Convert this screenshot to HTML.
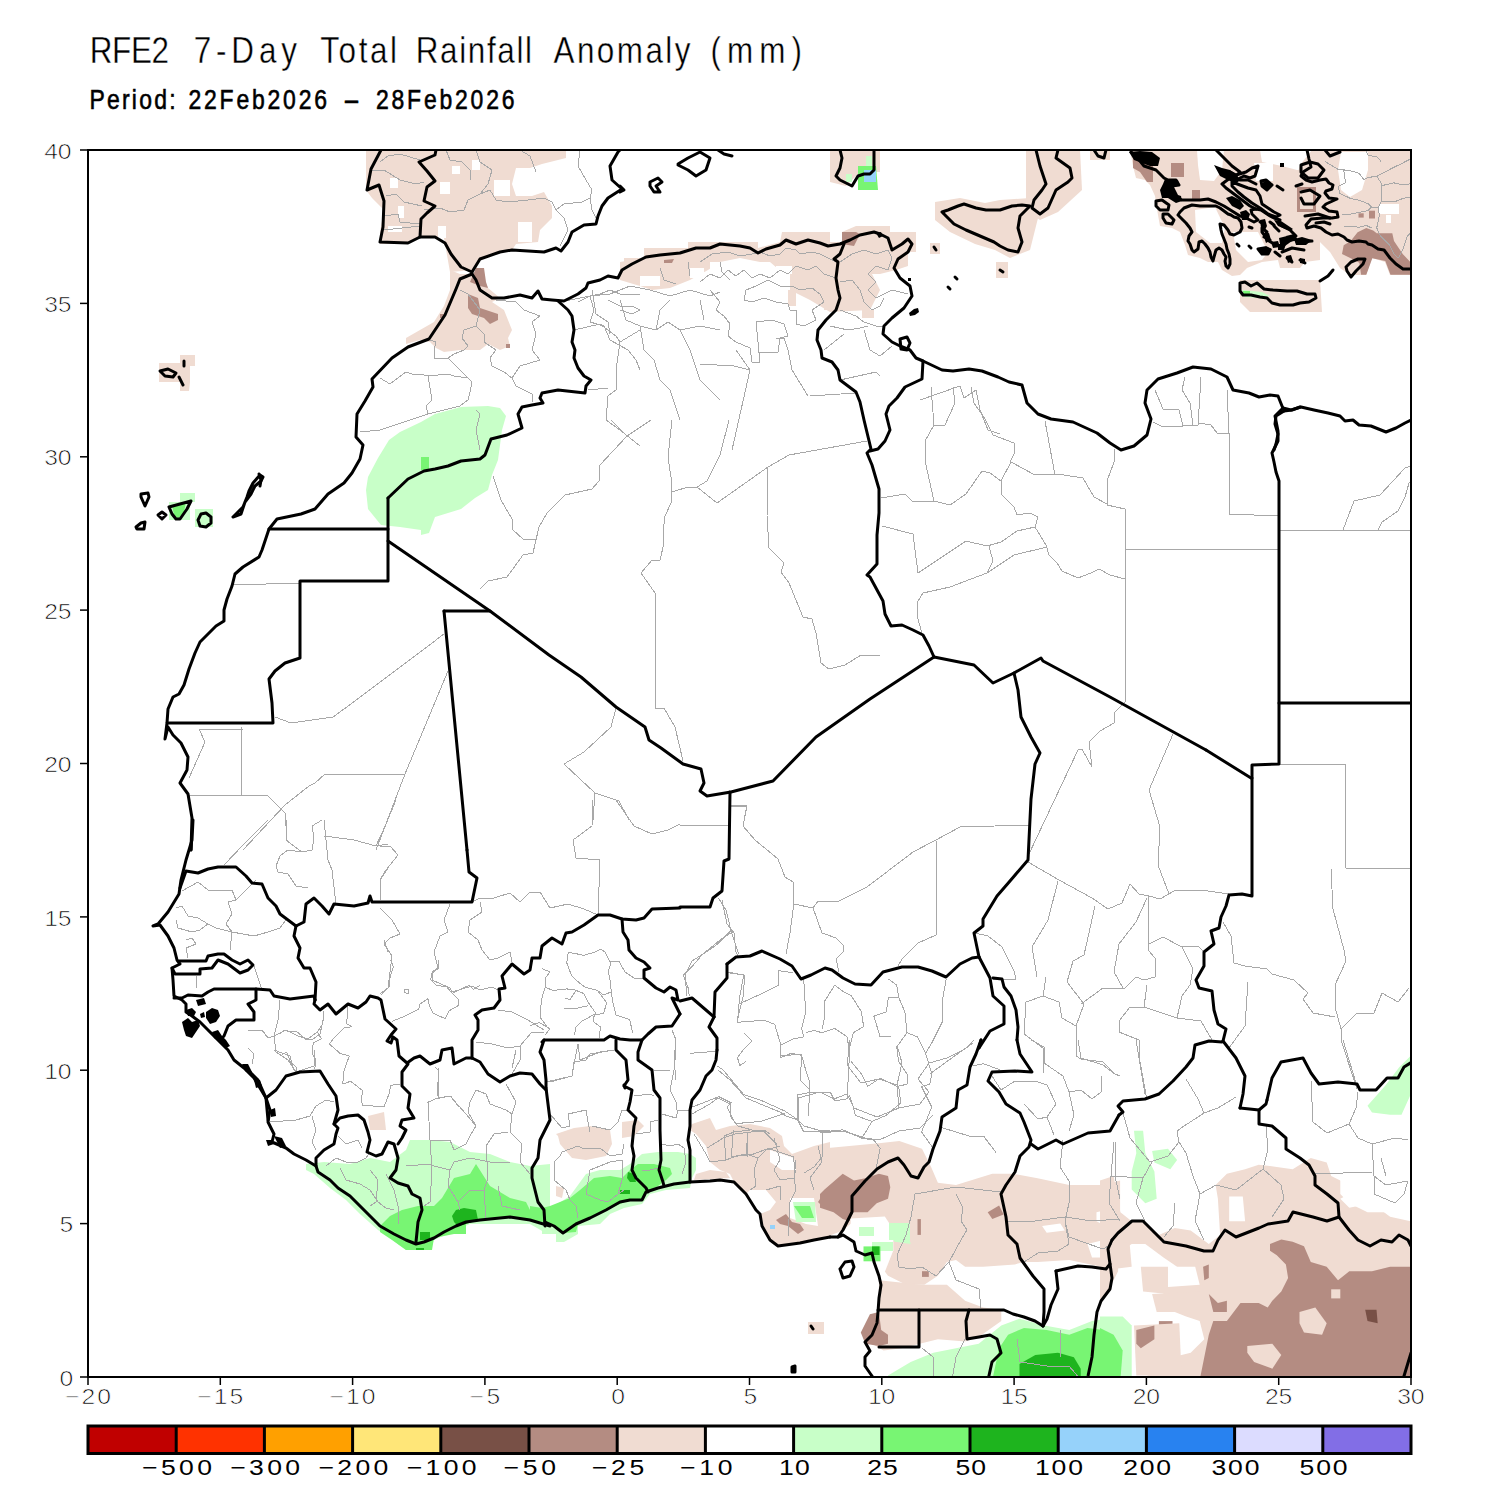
<!DOCTYPE html><html><head><meta charset="utf-8"><style>html,body{margin:0;padding:0;background:#fff;overflow:hidden;width:1500px;height:1500px;}svg{display:block}</style></head><body>
<svg width="1500" height="1500" viewBox="0 0 1500 1500">
<rect width="1500" height="1500" fill="#fff"/>
<text transform="translate(89.7,63.2) scale(0.85,1)" x="0" y="0" font-family="Liberation Sans, sans-serif" font-size="37" textLength="93.3" lengthAdjust="spacing" fill="#000" stroke="#fff" stroke-width="0.4">RFE2</text>
<text transform="translate(193.7,63.2) scale(0.85,1)" x="0" y="0" font-family="Liberation Sans, sans-serif" font-size="37" textLength="121.5" lengthAdjust="spacing" fill="#000" stroke="#fff" stroke-width="0.4">7-Day</text>
<text transform="translate(320.3,63.2) scale(0.85,1)" x="0" y="0" font-family="Liberation Sans, sans-serif" font-size="37" textLength="90.2" lengthAdjust="spacing" fill="#000" stroke="#fff" stroke-width="0.4">Total</text>
<text transform="translate(415.7,63.2) scale(0.85,1)" x="0" y="0" font-family="Liberation Sans, sans-serif" font-size="37" textLength="136.9" lengthAdjust="spacing" fill="#000" stroke="#fff" stroke-width="0.4">Rainfall</text>
<text transform="translate(553.5,63.2) scale(0.85,1)" x="0" y="0" font-family="Liberation Sans, sans-serif" font-size="37" textLength="161.2" lengthAdjust="spacing" fill="#000" stroke="#fff" stroke-width="0.4">Anomaly</text>
<text transform="translate(710.5,63.2) scale(0.85,1)" x="0" y="0" font-family="Liberation Sans, sans-serif" font-size="37" textLength="107.6" lengthAdjust="spacing" fill="#000" stroke="#fff" stroke-width="0.4">(mm)</text>
<text transform="translate(89.5,109.3) scale(0.85,1)" x="0" y="0" font-family="Liberation Sans, sans-serif" font-size="27" textLength="101.2" lengthAdjust="spacing" fill="#000" stroke="#000" stroke-width="0.6">Period:</text>
<text transform="translate(188.5,109.3) scale(0.85,1)" x="0" y="0" font-family="Liberation Sans, sans-serif" font-size="27" textLength="162.9" lengthAdjust="spacing" fill="#000" stroke="#000" stroke-width="0.6">22Feb2026</text>
<text transform="translate(343.0,109.3) scale(0.85,1)" x="0" y="0" font-family="Liberation Sans, sans-serif" font-size="27" textLength="20.0" lengthAdjust="spacingAndGlyphs" fill="#000" stroke="#000" stroke-width="0.6">-</text>
<text transform="translate(376.0,109.3) scale(0.85,1)" x="0" y="0" font-family="Liberation Sans, sans-serif" font-size="27" textLength="162.9" lengthAdjust="spacing" fill="#000" stroke="#000" stroke-width="0.6">28Feb2026</text>
<defs><clipPath id="mc"><rect x="88" y="150" width="1323" height="1227"/></clipPath></defs>
<g clip-path="url(#mc)">
<polygon points="306,1164 324,1162 350,1164 370,1158 390,1162 406,1150 410,1140 430,1140 450,1142 470,1152 490,1154 510,1162 530,1166 550,1164 550,1232 544,1232 530,1224 470,1224 434,1240 430,1250 406,1250 390,1238 378,1230 360,1214 346,1200 330,1188 314,1174 306,1170" fill="#c8ffc8"/>
<polygon points="380,1226 390,1216 402,1210 418,1206 434,1206 442,1198 454,1178 470,1174 476,1164 490,1186 510,1198 526,1202 530,1210 544,1214 550,1218 550,1226 530,1220 510,1217 480,1220 466,1222 466,1234 454,1234 434,1238 432,1250 406,1250 392,1240 380,1232" fill="#78f573"/>
<polygon points="452,1216 456,1210 464,1208 476,1210 478,1220 466,1224 458,1226 454,1222" fill="#1eb41e"/>
<polygon points="420,1232 430,1232 430,1240 420,1240" fill="#1eb41e"/>
<polygon points="416,1248 424,1248 424,1250 416,1250" fill="#1eb41e"/>
<polygon points="368,1116 384,1112 386,1130 370,1130" fill="#f0dcd2"/>
<polygon points="530,1204 540,1206 554,1206 570,1196 586,1174 600,1170 620,1170 630,1164 642,1154 658,1152 678,1152 690,1154 696,1158 696,1170 692,1178 690,1188 666,1190 650,1194 642,1204 624,1208 610,1214 600,1224 578,1226 578,1234 564,1242 556,1242 556,1234 542,1234 542,1226 530,1222" fill="#c8ffc8"/>
<polygon points="530,1206 542,1208 550,1206 570,1198 580,1190 594,1178 610,1176 622,1178 630,1170 638,1164 654,1164 670,1168 672,1174 666,1180 658,1186 646,1192 642,1200 630,1200 620,1204 606,1210 590,1218 578,1224 576,1232 564,1233 554,1226 544,1222 530,1221" fill="#78f573"/>
<polygon points="628,1172 634,1174 636,1182 630,1182 627,1178" fill="#1eb41e"/>
<polygon points="620,1190 630,1190 630,1194 620,1194" fill="#1eb41e"/>
<polygon points="556,1134 574,1128 590,1126 610,1130 612,1144 606,1156 586,1160 572,1158 560,1144 558,1136" fill="#f0dcd2"/>
<polygon points="622,1122 638,1120 644,1126 634,1136 622,1138" fill="#f0dcd2"/>
<polygon points="556,1186 564,1188 562,1198 556,1196" fill="#f0dcd2"/>
<polygon points="692,1124 710,1118 716,1130 730,1126 750,1124 770,1128 782,1136 784,1146 792,1154 814,1146 830,1142 830,1237 814,1240 800,1243 778,1246 770,1240 762,1226 760,1214 770,1210 776,1202 766,1190 750,1190 746,1194 734,1182 730,1174 720,1170 710,1162 706,1146 696,1134 690,1130" fill="#f0dcd2"/>
<polygon points="696,1174 710,1170 726,1172 730,1178 694,1180" fill="#f0dcd2"/>
<polygon points="770,1150 794,1158 796,1170 782,1170 770,1162" fill="#ffffff"/>
<polygon points="790,1198 814,1198 818,1226 806,1224 790,1218" fill="#ffffff"/>
<polygon points="793,1202 815,1202 816,1222 796,1222" fill="#c8ffc8"/>
<polygon points="794,1206 810,1206 814,1218 802,1218" fill="#78f573"/>
<polygon points="776,1220 786,1214 792,1222 800,1224 804,1230 798,1234 788,1226 780,1224" fill="#b48c82"/>
<polygon points="818,1202 826,1190 830,1192 830,1208 822,1206" fill="#b48c82"/>
<polygon points="808,1322 824,1322 824,1334 808,1334" fill="#f0dcd2"/>
<polygon points="770,1225 775,1225 775,1229 770,1229" fill="#96d2fa"/>
<polygon points="820.0,1148.8 881.2,1143.1 899.3,1140.9 922.0,1148.8 931.1,1166.9 937.9,1182.8 956.0,1185.1 992.3,1173.7 1012.7,1173.7 1037.6,1178.3 1069.3,1185.1 1103.3,1185.1 1120.1,1180.5 1120.1,1284.8 1110.1,1278.0 1101.1,1266.7 1069.3,1259.9 1037.6,1262.1 1024.0,1262.1 1014.9,1264.4 983.2,1266.7 965.1,1266.7 956.0,1259.9 946.9,1262.1 937.9,1275.7 924.3,1284.8 906.1,1284.8 888.0,1275.7 881.2,1266.7 876.7,1244.0 869.9,1221.3 856.3,1219.1 842.7,1230.4 820.0,1239.5" fill="#f0dcd2"/>
<polygon points="878.9,1280.3 922.0,1284.8 946.9,1284.8 965.1,1300.7 983.2,1307.5 1001.3,1309.7 1001.3,1321.1 978.7,1336.9 965.1,1341.5 937.9,1339.2 919.7,1343.7 901.6,1348.3 883.5,1350.5 872.1,1343.7 876.7,1323.3 878.9,1300.7" fill="#f0dcd2"/>
<polygon points="1096.5,1212.3 1114.7,1207.7 1120.1,1212.3 1120.1,1228.1 1105.6,1225.9 1096.5,1221.3" fill="#ffffff"/>
<polygon points="1087.5,1244.0 1105.6,1239.5 1112.4,1244.0 1110.1,1257.6 1092.0,1257.6" fill="#ffffff"/>
<polygon points="1042.1,1225.9 1060.3,1223.6 1064.8,1230.4 1046.7,1232.7" fill="#ffffff"/>
<polygon points="820.0,1194.1 824.5,1189.6 842.7,1173.7 854.0,1180.5 865.3,1178.3 878.9,1173.7 888.0,1176.0 890.3,1187.3 888.0,1198.7 876.7,1203.2 867.6,1212.3 851.7,1212.3 849.5,1221.3 842.7,1219.1 833.6,1212.3 820.0,1207.7" fill="#b48c82"/>
<polygon points="860.8,1332.4 869.9,1314.3 878.9,1312.0 881.2,1330.1 888.0,1334.7 888.0,1343.7 878.9,1346.0 865.3,1343.7" fill="#b48c82"/>
<polygon points="987.7,1212.3 999.1,1205.5 1003.6,1214.5 992.3,1219.1" fill="#b48c82"/>
<polygon points="917.5,1219.1 920.9,1219.1 920.9,1234.9 917.5,1234.9" fill="#b48c82"/>
<polygon points="922.0,1271.2 928.8,1271.2 928.8,1276.9 922.0,1276.9" fill="#b48c82"/>
<polygon points="860.8,1225.9 874.4,1225.9 874.4,1234.9 860.8,1234.9" fill="#c8ffc8"/>
<polygon points="888.0,1223.6 906.1,1225.9 910.7,1244.0 894.8,1241.7 888.0,1234.9" fill="#c8ffc8"/>
<polygon points="888.0,1375.5 910.7,1361.9 933.3,1352.8 956.0,1348.3 978.7,1343.7 1001.3,1325.6 1019.5,1318.8 1044.4,1325.6 1069.3,1330.1 1092.0,1321.1 1120.1,1316.5 1120.1,1380.0 888.0,1380.0" fill="#c8ffc8"/>
<polygon points="992.3,1380.0 999.1,1348.3 1008.1,1334.7 1024.0,1327.9 1046.7,1330.1 1069.3,1334.7 1087.5,1327.9 1103.3,1330.1 1120.1,1334.7 1120.1,1380.0" fill="#78f573"/>
<polygon points="1019.5,1364.1 1035.3,1355.1 1058.0,1352.8 1073.9,1357.3 1080.7,1368.7 1080.7,1380.0 1019.5,1380.0" fill="#1eb41e"/>
<polygon points="863.1,1250.8 874.4,1248.5 878.9,1257.6 872.1,1264.4 863.1,1259.9" fill="#78f573"/>
<polygon points="873.3,1247.4 877.8,1247.4 877.8,1254.2 873.3,1254.2" fill="#1eb41e"/>
<polygon points="1100.0,1180.5 1113.6,1176.0 1120.4,1212.3 1131.7,1221.3 1143.1,1221.3 1158.9,1234.9 1174.8,1228.1 1190.7,1230.4 1208.8,1244.0 1220.1,1234.9 1217.9,1198.7 1215.6,1185.1 1226.9,1173.7 1245.1,1169.2 1258.7,1164.7 1276.8,1166.9 1292.7,1169.2 1310.8,1157.9 1326.7,1162.4 1331.2,1176.0 1349.3,1185.1 1349.3,1194.1 1340.3,1198.7 1349.3,1207.7 1372.0,1203.2 1390.1,1216.8 1410.5,1221.3 1412.8,1380.0 1100.0,1380.0" fill="#f0dcd2"/>
<polygon points="1118.1,1253.1 1131.7,1244.0 1145.3,1244.0 1163.5,1257.6 1177.1,1266.7 1195.2,1266.7 1199.7,1284.8 1168.0,1287.1 1156.7,1302.9 1174.8,1312.0 1186.1,1316.5 1199.7,1321.1 1204.3,1339.2 1190.7,1352.8 1172.5,1357.3 1152.1,1366.4 1145.3,1380.0 1100.0,1380.0 1100.0,1305.2 1109.1,1289.3 1118.1,1271.2" fill="#ffffff"/>
<polygon points="1229.2,1196.4 1242.8,1196.4 1245.1,1221.3 1229.2,1221.3" fill="#ffffff"/>
<polygon points="1340.3,1171.5 1412.8,1171.5 1412.8,1203.2 1394.7,1212.3 1367.5,1212.3 1349.3,1203.2 1340.3,1194.1" fill="#ffffff"/>
<polygon points="1270.0,1244.0 1281.3,1239.5 1292.7,1241.7 1304.0,1246.3 1310.8,1262.1 1326.7,1266.7 1338.0,1280.3 1349.3,1271.2 1372.0,1271.2 1390.1,1266.7 1412.8,1266.7 1412.8,1380.0 1199.7,1380.0 1208.8,1334.7 1213.3,1321.1 1226.9,1321.1 1240.5,1302.9 1258.7,1302.9 1267.7,1307.5 1272.3,1300.7 1281.3,1291.6 1288.1,1278.0 1285.9,1264.4 1276.8,1255.3 1270.0,1250.8" fill="#b48c82"/>
<polygon points="1247.3,1346.0 1272.3,1343.7 1281.3,1355.1 1272.3,1368.7 1254.1,1361.9 1247.3,1352.8" fill="#f0dcd2"/>
<polygon points="1299.5,1312.0 1315.3,1307.5 1326.7,1323.3 1322.1,1334.7 1304.0,1332.4 1299.5,1323.3" fill="#f0dcd2"/>
<polygon points="1331.2,1289.3 1340.3,1289.3 1340.3,1298.4 1331.2,1298.4" fill="#f0dcd2"/>
<polygon points="1136.3,1330.1 1154.4,1325.6 1154.4,1339.2 1140.8,1348.3 1136.3,1343.7" fill="#b48c82"/>
<polygon points="1203.1,1266.7 1208.8,1264.4 1208.8,1278.0 1204.3,1280.3" fill="#b48c82"/>
<polygon points="1208.8,1293.9 1217.9,1302.9 1226.9,1300.7 1226.9,1312.0 1213.3,1312.0" fill="#b48c82"/>
<polygon points="1158.9,1321.1 1172.5,1321.1 1172.5,1325.6 1158.9,1325.6" fill="#b48c82"/>
<polygon points="1365.2,1309.7 1376.5,1309.7 1377.7,1323.3 1367.5,1321.1" fill="#785046"/>
<polygon points="1134.0,1130.7 1143.1,1130.7 1145.3,1153.3 1154.4,1171.5 1156.7,1198.7 1145.3,1203.2 1131.7,1189.6 1131.7,1171.5 1136.3,1153.3" fill="#c8ffc8"/>
<polygon points="1152.1,1151.1 1168.0,1148.8 1177.1,1160.1 1170.3,1169.2 1154.4,1162.4" fill="#c8ffc8"/>
<polygon points="1367.5,1105.7 1385.6,1085.3 1399.2,1067.2 1412.8,1053.6 1412.8,1089.9 1401.5,1114.8 1390.1,1114.8 1372.0,1112.5" fill="#c8ffc8"/>
<polygon points="1100.0,1316.5 1122.7,1316.5 1131.7,1325.6 1131.7,1380.0 1100.0,1380.0" fill="#c8ffc8"/>
<polygon points="1100.0,1327.9 1113.6,1334.7 1122.7,1350.5 1120.4,1380.0 1100.0,1380.0" fill="#78f573"/>
<polygon points="366,150 566,150 566,158 542,164 530,168 516,168 512,184 516,196 532,196 544,192 552,206 552,218 540,230 538,242 516,244 512,250 480,258 474,270 450,272 444,238 424,236 406,244 380,244 380,232 384,210 372,198 366,190" fill="#f0dcd2"/>
<polygon points="452,166 460,166 460,174 452,174" fill="#ffffff"/>
<polygon points="440,182 450,182 450,194 440,194" fill="#ffffff"/>
<polygon points="494,180 510,180 510,196 494,196" fill="#ffffff"/>
<polygon points="518,222 532,222 532,242 518,242" fill="#ffffff"/>
<polygon points="438,226 446,226 446,238 438,238" fill="#ffffff"/>
<polygon points="472,160 480,160 480,170 472,170" fill="#ffffff"/>
<polygon points="390,178 398,178 398,188 390,188" fill="#ffffff"/>
<polygon points="398,206 404,206 404,218 398,218" fill="#ffffff"/>
<polygon points="388,226 402,226 402,232 388,232" fill="#ffffff"/>
<polygon points="624,258 640,258 640,270 624,270" fill="#f0dcd2"/>
<polygon points="450,270 460,274 472,274 480,270 488,288 500,298 492,302 504,310 512,330 508,338 510,346 500,350 488,344 480,350 460,350 444,352 436,348 430,342 420,340 406,344 406,338 420,330 434,322 444,306 450,290" fill="#f0dcd2"/>
<polygon points="476,268 484,268 486,282 488,288 480,286 470,282" fill="#b48c82"/>
<polygon points="468,294 478,298 480,308 492,312 498,314 498,320 490,324 484,318 472,314 468,308" fill="#b48c82"/>
<polygon points="506,344 510,344 510,348 506,348" fill="#b48c82"/>
<polygon points="440,314 444,314 444,318 440,318" fill="#b48c82"/>
<polygon points="389,440 400,432 421,422 435,414 461,407 488,406 500,408 506,416 502,430 500,445 498,460 492,475 488,490 475,498 461,509 435,517 429,533 421,535 421,530 400,527 381,525 368,509 366,490 368,477 378,458" fill="#c8ffc8"/>
<polygon points="421,457 429,457 429,470 421,470" fill="#78f573"/>
<polygon points="620,262 644,258 644,248 688,248 688,242 758,242 758,248 780,242 782,232 802,232 830,232 830,242 842,242 842,232 856,226 890,226 890,232 916,232 916,252 908,252 908,266 896,270 880,274 860,274 840,270 820,270 800,274 784,274 770,262 760,262 740,258 720,262 708,270 690,280 670,288 652,290 640,286 620,280" fill="#f0dcd2"/>
<polygon points="790,270 870,270 880,290 870,310 830,312 810,300 790,290" fill="#f0dcd2"/>
<polygon points="842,232 856,232 860,234 854,246 842,244" fill="#b48c82"/>
<polygon points="664,260 674,259 672,263 664,263" fill="#b48c82"/>
<polygon points="830,150 880,150 880,172 860,172 846,186 830,182" fill="#f0dcd2"/>
<polygon points="846,174 852,174 852,182 846,182" fill="#c8ffc8"/>
<polygon points="858,166 876,166 878,190 858,190" fill="#78f573"/>
<polygon points="864,170 876,170 876,182 864,182" fill="#96d2fa"/>
<polygon points="866,156 872,156 872,166 866,166" fill="#c8ffc8"/>
<polygon points="935,202 960,198 985,203 1000,200 1030,198 1040,210 1030,250 1010,258 995,250 975,244 950,232 935,220" fill="#f0dcd2"/>
<polygon points="1026,150 1080,150 1082,190 1058,212 1040,220 1026,210 1026,170" fill="#f0dcd2"/>
<polygon points="972,230 985,230 985,240 972,240" fill="#f0dcd2"/>
<polygon points="996,262 1008,262 1008,278 996,278" fill="#f0dcd2"/>
<polygon points="1090,150 1110,150 1110,160 1090,160" fill="#f0dcd2"/>
<polygon points="1130,150 1260,150 1262,162 1282,166 1297,170 1320,170 1320,260 1305,262 1300,268 1280,268 1278,260 1262,262 1247,268 1240,275 1232,276 1222,270 1218,262 1208,262 1200,258 1188,255 1185,245 1180,232 1172,228 1160,226 1158,215 1155,196 1150,185 1145,180 1136,178 1133,166" fill="#f0dcd2"/>
<polygon points="1197,150 1224,150 1222,170 1214,181 1200,180 1198,165" fill="#ffffff"/>
<polygon points="1195,210 1215,207 1225,228 1222,243 1210,243 1196,232" fill="#ffffff"/>
<polygon points="1233,232 1258,232 1268,252 1262,260 1248,262 1236,250" fill="#ffffff"/>
<polygon points="1254,163 1273,163 1273,181 1256,181" fill="#ffffff"/>
<polygon points="1133,157 1153,157 1153,182 1147,182 1140,172 1133,168" fill="#b48c82"/>
<polygon points="1171,163 1184,163 1184,177 1171,177" fill="#b48c82"/>
<polygon points="1192,190 1200,190 1200,199 1192,199" fill="#b48c82"/>
<polygon points="1298,186 1320,186 1320,213 1298,213" fill="#b48c82"/>
<polygon points="1240,280 1320,280 1322,312 1250,312 1240,302" fill="#f0dcd2"/>
<polygon points="1242,290 1262,292 1270,296 1260,298 1244,297" fill="#c8ffc8"/>
<polygon points="1243,291 1250,291 1250,296 1243,296" fill="#78f573"/>
<polygon points="180,355 195,355 195,366 190,366 190,382 189,391 180,391 180,382 159,382 159,363 180,363" fill="#f0dcd2"/>
<polygon points="169,502 190,502 190,520 169,520" fill="#c8ffc8"/>
<polygon points="180,493 195,493 195,502 180,502" fill="#c8ffc8"/>
<polygon points="195,509 213,509 213,527 195,527" fill="#c8ffc8"/>
<polygon points="172,505 186,502 184,512 178,519 174,515" fill="#78f573"/>
<polygon points="182,1022 188,1018 192,1022 198,1020 200,1026 196,1032 192,1038 186,1036 184,1030" fill="#000000"/>
<polygon points="186,1010 192,1008 196,1012 194,1016 188,1016" fill="#000000"/>
<polygon points="206,1012 212,1008 218,1010 220,1016 216,1022 210,1024 206,1018" fill="#000000"/>
<polygon points="200,1014 204,1012 205,1017 201,1018" fill="#000000"/>
<polygon points="212,1032 218,1030 222,1036 226,1040 230,1046 226,1048 220,1042 214,1038" fill="#000000"/>
<polygon points="196,1000 204,998 206,1004 198,1006" fill="#000000"/>
<polygon points="242,1064 248,1064 252,1072 246,1072" fill="#000000"/>
<polygon points="254,1080 260,1080 262,1086 256,1088" fill="#000000"/>
<polygon points="270,1110 275,1108 276,1116 271,1117" fill="#000000"/>
<polygon points="274,1136 282,1138 286,1146 280,1148" fill="#000000"/>
<polygon points="266,1140 272,1140 274,1144 268,1146" fill="#000000"/>
<polygon points="1129,152 1140,151 1152,152 1160,158 1158,166 1150,166 1142,163 1134,160" fill="#000000"/>
<polygon points="1165,179 1178,180 1179,185 1174,187 1178,195 1181,196 1182,201 1176,203 1168,198 1162,198 1160,190 1163,184" fill="#000000"/>
<polygon points="1214,165 1222,168 1230,170 1236,174 1240,180 1236,184 1228,180 1220,176" fill="#000000"/>
<polygon points="1226,198 1232,196 1240,200 1244,206 1240,210 1232,206" fill="#000000"/>
<polygon points="1240,212 1246,210 1250,214 1248,220 1242,220" fill="#000000"/>
<polygon points="1286,236 1294,234 1298,240 1290,242" fill="#000000"/>
<polygon points="1278,244 1286,244 1284,250 1278,250" fill="#000000"/>
<polygon points="710,262 726,262 726,274 710,274" fill="#ffffff"/>
<polygon points="754,262 766,262 766,278 754,278" fill="#ffffff"/>
<polygon points="776,266 792,266 792,274 776,274" fill="#ffffff"/>
<polygon points="640,276 660,276 660,286 640,286" fill="#ffffff"/>
<polygon points="690,268 704,268 704,278 690,278" fill="#ffffff"/>
<polygon points="788,290 796,290 796,306 788,306" fill="#f0dcd2"/>
<polygon points="824,290 860,290 860,310 824,310" fill="#f0dcd2"/>
<polygon points="862,310 874,310 874,318 862,318" fill="#f0dcd2"/>
<polygon points="930,243 940,243 940,254 930,254" fill="#f0dcd2"/>
<polygon points="1109.1,1244.0 1129.5,1241.7 1131.7,1266.7 1113.6,1268.9" fill="#f0dcd2"/>
<polygon points="1140.8,1266.7 1168.0,1266.7 1168.0,1293.9 1143.1,1291.6" fill="#f0dcd2"/>
<polygon points="1152.1,1293.9 1199.7,1291.6 1199.7,1312.0 1156.7,1312.0" fill="#f0dcd2"/>
<polygon points="1134.0,1325.6 1179.3,1323.3 1181.6,1375.5 1136.3,1375.5" fill="#f0dcd2"/>
<polygon points="1136.3,1330.1 1154.4,1325.6 1154.4,1339.2 1140.8,1348.3 1136.3,1343.7" fill="#b48c82"/>
<polygon points="1312,150 1411,150 1411,275 1390,275 1385,262 1372,258 1366,275 1350,275 1340,268 1330,252 1318,240 1300,232 1296,215 1296,180 1300,165" fill="#f0dcd2"/>
<polygon points="1341,152 1368,152 1368,170 1362,190 1350,197 1341,190 1338,170" fill="#ffffff"/>
<polygon points="1379,204 1399,204 1399,214 1379,214" fill="#ffffff"/>
<polygon points="1386,215 1391,215 1391,223 1386,223" fill="#ffffff"/>
<polygon points="1357.6,232.3 1366.3,228 1373.2,230.6 1376.7,233.2 1392.3,233.2 1394,241 1402.7,254 1411,262.7 1411,274.8 1390.5,274.8 1385.3,260.9 1372.3,258.3 1366.3,274.8 1361.1,274.8 1359.3,262.7 1350.7,258.3 1342,254 1343.7,245.3 1350.7,241" fill="#b48c82"/>
<polygon points="1358.5,213.3 1363.7,213.3 1363.7,217.6 1358.5,217.6" fill="#b48c82"/>
<polygon points="1369,210.7 1375,210.7 1375,218.5 1369,218.5" fill="#b48c82"/>
<polygon points="1297,187 1316,187 1316,212 1297,212" fill="#b48c82"/>
<polygon points="1300,190 1313,190 1313,209 1300,209" fill="#f0dcd2"/>
<polygon points="909,313 914,309 918,308 919,312 915,315 910,316" fill="#000000"/>
<polygon points="908,278 911,278 911,281 908,281" fill="#000000"/>
<polygon points="876,233 881,232 883,236 879,238" fill="#000000"/>
<polygon points="850.7,1218.6 884.8,1216.4 893.3,1229.2 893.3,1250.6 884.8,1271.9 867.7,1278.3 854.9,1267.6 850.7,1242" fill="#ffffff"/>
<polygon points="859,1227 874,1227 874,1236 859,1236" fill="#c8ffc8"/>
<polygon points="889,1223 910,1223 910,1240 889,1240" fill="#c8ffc8"/>
<polygon points="872,1242 893,1242 893,1251 872,1251" fill="#c8ffc8"/>
<polygon points="863.5,1246.4 880.5,1246.4 880.5,1261.3 863.5,1261.3" fill="#78f573"/>
<polygon points="872,1246.4 879.5,1246.4 879.5,1255 872,1255" fill="#1eb41e"/>
<polygon points="1261,184 1266,180 1272,185 1267,190" fill="#000000"/>
<polygon points="1280,163 1284,163 1284,167 1280,167" fill="#000000"/>
<polygon points="1260,220 1265,219 1267,226 1264,232 1261,228" fill="#000000"/>
<polygon points="1263,234 1269,233 1271,240 1266,243" fill="#000000"/>
<polygon points="1271,242 1278,241 1280,247 1273,248" fill="#000000"/>
<polygon points="1259,249 1266,246 1272,249 1268,254 1261,254" fill="#000000"/>
<polygon points="1274,220 1281,221 1293,229 1290,231 1278,226" fill="#000000"/>
<polygon points="1279,238 1287,236 1292,241 1285,246 1280,244" fill="#000000"/>
<polygon points="1294,239 1302,237 1312,240 1306,245 1296,245" fill="#000000"/>
<polygon points="1286,256 1291,255 1293,261 1288,263" fill="#000000"/>
<polygon points="1300,258 1305,259 1305,264 1300,263" fill="#000000"/>

<g fill="none" stroke="#a8a8a8" stroke-width="1" stroke-linejoin="round" shape-rendering="crispEdges">
<polyline points="232,585 300,583"/>
<polyline points="275,717 291,723 333,717 355,701 444,634"/>
<polyline points="448,671 405,774 376,850"/>
<polyline points="325,774 405,774"/>
<polyline points="325,774 315,783 309,786 285,805 243,850"/>
<polyline points="241,727 241,795"/>
<polyline points="199,729 243,729"/>
<polyline points="199,729 205,742 189,778"/>
<polyline points="189,795 267,795 285,813 287,839"/>
<polyline points="672,420 668,457 672,484 671,503 665,516 663,532 664,543 660,560 652,560 641,573 655,593 655,708 664,708 675,727 683,761"/>
<polyline points="611,420 627,436 651,420"/>
<polyline points="627,436 600,465 599,481 592,489 565,495 547,513 539,527 536,540 533,553 523,555 507,577 488,581 480,589"/>
<polyline points="493,476 501,500 512,519 512,529 523,539 537,540"/>
<polyline points="672,492 688,487 697,487 707,481 720,455 729,420"/>
<polyline points="697,487 717,503 768,467 789,455 867,441"/>
<polyline points="768,467 767,516 769,548 784,563 781,572 789,583 803,617 812,619 816,633 821,663 829,669 845,665 861,655 880,656"/>
<polyline points="616,708 611,727 584,752 564,764 595,793 593,820"/>
<polyline points="595,793 619,801 629,820"/>
<polyline points="731,805 747,805 744,820"/>
<polyline points="1125,509 1125,702"/>
<polyline points="1125,549 1279,549"/>
<polyline points="1227,390 1229,433 1229,514 1279,516"/>
<polyline points="1107,505 1125,509"/>
<polyline points="1107,505 1107,481 1114,462 1114,449"/>
<polyline points="1045,421 1055,475"/>
<polyline points="1011,462 1001,481 990,473 982,471 966,494 950,505 934,501 913,502 905,494 881,498"/>
<polyline points="1001,481 1001,494 1014,507 1017,515 1030,513 1038,517 1035,527 1017,531 1001,542 987,546 966,541 918,573 913,534 882,526"/>
<polyline points="1035,527 1046,545 1049,555 1057,563 1062,571 1078,578 1091,573 1099,569 1110,575 1125,579"/>
<polyline points="1047,547 1014,555 987,573 971,579 950,587 923,593 917,603 918,619 922,633"/>
<polyline points="989,546 993,561 987,573"/>
<polyline points="1010,462 1014,454 1014,443 993,435 985,419 974,403 971,387"/>
<polyline points="1011,462 1035,475 1057,474 1083,478 1094,497 1107,504"/>
<polyline points="931,387 934,425 945,425 955,403 953,387"/>
<polyline points="934,425 925,441 926,465 934,501"/>
<polyline points="1155,390 1163,409 1179,410 1183,426 1198,425 1201,377"/>
<polyline points="1185,377 1182,390 1190,403 1193,425"/>
<polyline points="1153,422 1161,426 1183,426"/>
<polyline points="1198,423 1211,425 1217,433 1229,434"/>
<polyline points="1279,530 1411,530"/>
<polyline points="1343,530 1354,501 1380,495 1405,468 1411,466"/>
<polyline points="1378,530 1382,522 1398,511 1405,497 1409,483 1411,481"/>
<polyline points="182,891 198,882 208,890 232,890 236,900 228,902 232,914 226,924 232,932 230,950"/>
<polyline points="236,900 246,890 256,880"/>
<polyline points="176,908 182,906 188,916 198,918 208,924 216,928 232,932 254,936 268,932 280,928 286,920"/>
<polyline points="176,920 178,928 192,932 200,930 208,924"/>
<polyline points="186,940 192,938 196,944 186,948 188,958"/>
<polyline points="196,976 196,988"/>
<polyline points="254,966 262,990"/>
<polyline points="280,1000 278,1020 274,1036 276,1052 288,1060 296,1072"/>
<polyline points="248,1030 262,1030 268,1038 274,1036 286,1030 298,1036 312,1040 320,1034 324,1016"/>
<polyline points="248,1048 254,1054 252,1064"/>
<polyline points="286,820 286,840 302,852 312,850 314,838 312,826 322,820"/>
<polyline points="324,820 328,860 332,870 336,904"/>
<polyline points="324,836 354,840 376,846 388,844"/>
<polyline points="388,820 376,846"/>
<polyline points="276,866 280,856 288,850 302,852"/>
<polyline points="276,866 278,872 288,874 296,886 308,888"/>
<polyline points="224,865 244,844 268,820"/>
<polyline points="388,868 380,880 380,900"/>
<polyline points="384,940 388,952"/>
<polyline points="472,902 480,898 494,898 510,893 520,902 530,892 540,892 550,908 568,904 584,909 598,915"/>
<polyline points="598,915 600,860 576,858 573,840 592,826 593,800"/>
<polyline points="616,800 634,826 652,834 668,830 680,824"/>
<polyline points="380,838 396,800"/>
<polyline points="380,846 390,846 398,855 386,870 380,880"/>
<polyline points="480,902 482,912 470,920 468,932 478,940 482,950 490,960 498,958 510,952 512,962"/>
<polyline points="450,904 444,920 448,932 440,936 434,952 438,968 432,972 432,980 450,988 452,992 472,986 480,990 492,987 498,990"/>
<polyline points="380,908 392,920 400,934 390,938 384,944 392,956 388,988 380,994"/>
<polyline points="498,1010 512,1012 528,1020 544,1030"/>
<polyline points="476,1042 492,1044 508,1048 520,1046 520,1060 512,1074"/>
<polyline points="520,1046 532,1032 544,1032"/>
<polyline points="546,1082 572,1076 574,1064 578,1044 580,1060 600,1052 614,1050"/>
<polyline points="672,1030 676,1040 674,1060 676,1080"/>
<polyline points="730,806 747,806 743,826 755,840 778,859 785,877 793,882 794,903 790,933 786,954"/>
<polyline points="680,825 728,825"/>
<polyline points="794,904 813,908 818,901 839,901 867,887 913,852 934,841 960,827 1030,825"/>
<polyline points="936,841 936,935 918,943 902,959 898,966"/>
<polyline points="813,908 822,933 836,938 843,945 843,952 836,959 839,972"/>
<polyline points="722,900 727,924 734,933 736,952 738,956"/>
<polyline points="734,931 720,940 703,954 692,961 685,975 687,996"/>
<polyline points="975,933 988,936 1002,947 1014,971 1016,979 993,979"/>
<polyline points="1125,690 1125,702 1115,712 1114,723 1100,731 1089,742 1092,767 1082,749 1078,750 1029,854"/>
<polyline points="1010,825 1028,825"/>
<polyline points="1173,734 1149,790 1160,827 1158,865 1169,894"/>
<polyline points="1028,862 1059,880 1092,898 1108,909 1122,903 1130,884 1139,894 1149,896 1160,899 1174,891 1201,890 1229,894"/>
<polyline points="1058,881 1048,920 1032,947 1037,977"/>
<polyline points="1095,906 1084,955 1073,961 1067,982 1084,1004"/>
<polyline points="1148,896 1148,950 1155,958 1155,977 1144,980 1136,977 1125,988 1103,988 1081,1004"/>
<polyline points="1147,898 1136,922 1119,944 1114,972 1123,988"/>
<polyline points="1149,944 1163,937 1180,946 1199,947 1204,952"/>
<polyline points="1182,947 1193,969 1190,985 1182,996 1177,1018 1201,1021 1212,1040"/>
<polyline points="1144,1007 1177,1018"/>
<polyline points="1147,985 1144,1007 1130,1007 1119,1021 1119,1032 1139,1040 1139,1056 1147,1100"/>
<polyline points="1046,977 1043,996 1026,1002 1024,1034 1043,1048 1043,1073"/>
<polyline points="1043,996 1059,1002 1062,1018 1076,1026 1076,1056 1081,1059 1103,1062 1114,1073"/>
<polyline points="1076,1026 1084,1004"/>
<polyline points="1279,764 1345,764 1345,868 1410,869"/>
<polyline points="1331,869 1333,909 1344,950 1346,961 1335,985 1335,1007 1341,1029 1341,1040 1357,1089"/>
<polyline points="1223,922 1231,936 1234,963 1245,966 1267,969 1272,974 1294,980 1308,993 1303,999 1313,1013 1335,1017"/>
<polyline points="1341,1029 1357,1013 1374,1013 1382,993 1398,1002 1409,988"/>
<polyline points="1248,982 1245,1026 1229,1048"/>
<polyline points="428,1102 430,1140 432,1170 430,1202 424,1206"/>
<polyline points="430,1140 450,1140 454,1150 466,1144 470,1136 476,1126 468,1112 470,1102 476,1090 486,1094 490,1104 506,1110 512,1114 510,1132 522,1144 520,1162 530,1174"/>
<polyline points="406,1166 430,1164 434,1166 450,1170 454,1162 470,1158 490,1162 510,1162"/>
<polyline points="450,1170 448,1186 458,1202 460,1210"/>
<polyline points="486,1146 494,1134 508,1132"/>
<polyline points="486,1146 488,1178 484,1190 486,1220"/>
<polyline points="498,1186 502,1206 520,1210"/>
<polyline points="458,1202 470,1190 484,1190"/>
<polyline points="326,1166 336,1158 346,1162 358,1162 366,1158 370,1152"/>
<polyline points="340,1168 346,1180 360,1184 370,1190 378,1202 386,1208 394,1210"/>
<polyline points="338,1136 346,1144 358,1140 362,1148"/>
<polyline points="370,1170 378,1180 376,1202 370,1206"/>
<polyline points="386,1174 394,1190 398,1206 398,1224"/>
<polyline points="270,1122 296,1120 310,1116 316,1106 326,1100 334,1102"/>
<polyline points="312,1116 316,1130 312,1142 316,1150"/>
<polyline points="314,1050 314,1066 296,1072"/>
<polyline points="274,1050 290,1056 294,1070"/>
<polyline points="438,1068 438,1098 450,1096 466,1114 476,1126"/>
<polyline points="506,1084 516,1102 512,1114"/>
<polyline points="512,1068 516,1050"/>
<polyline points="550,1082 572,1076 574,1062 586,1060 590,1054 614,1050"/>
<polyline points="550,1114 562,1128 570,1126 568,1114 586,1110 588,1122 590,1132"/>
<polyline points="592,1126 610,1130 618,1122 622,1110 628,1110"/>
<polyline points="562,1152 578,1146 582,1148 600,1148 610,1156 622,1154 624,1144"/>
<polyline points="554,1180 554,1162 560,1156 562,1152"/>
<polyline points="554,1180 566,1190 570,1200 576,1206 578,1218"/>
<polyline points="586,1194 590,1170 600,1166 610,1162 622,1160"/>
<polyline points="586,1194 600,1200 608,1202 618,1194 624,1190"/>
<polyline points="622,1160 622,1180 618,1194"/>
<polyline points="634,1096 650,1094 654,1096"/>
<polyline points="636,1134 650,1132 650,1122 658,1120"/>
<polyline points="642,1170 650,1170 658,1168"/>
<polyline points="662,1114 676,1118 678,1110 690,1110"/>
<polyline points="670,1090 676,1102 676,1110"/>
<polyline points="676,1050 674,1070 670,1090"/>
<polyline points="662,1144 670,1146 678,1144 684,1148 686,1162 682,1174"/>
<polyline points="654,1070 670,1070"/>
<polyline points="692,1114 710,1104 718,1098 726,1102 730,1104 730,1116 738,1126 752,1130 764,1130 770,1134"/>
<polyline points="718,1070 730,1080 746,1098 770,1108 780,1112 786,1116 798,1120 804,1126 818,1130 830,1130"/>
<polyline points="798,1120 798,1098 820,1092 830,1092"/>
<polyline points="808,1116 810,1090 800,1080 802,1054 780,1056"/>
<polyline points="694,1134 706,1154 710,1162 726,1160 724,1136 734,1132 750,1130"/>
<polyline points="748,1132 746,1154 736,1156 726,1160"/>
<polyline points="746,1154 758,1158 766,1150 780,1146"/>
<polyline points="758,1158 754,1170 756,1186 750,1190"/>
<polyline points="774,1138 780,1160 774,1170 780,1180 794,1178 796,1160"/>
<polyline points="766,1190 780,1186 780,1200"/>
<polyline points="794,1178 796,1190 790,1202 788,1236"/>
<polyline points="818,1146 822,1162 810,1178 814,1190"/>
<polyline points="820,1133 843,1131 865,1138 879,1140 899,1131 920,1128 933,1115"/>
<polyline points="820,1092 834,1099 847,1094 854,1108 877,1117 899,1108 897,1085 879,1079 861,1083 847,1065 850,1040"/>
<polyline points="899,1108 920,1104 929,1092 918,1079 929,1063 947,1058 965,1049 974,1040"/>
<polyline points="897,1085 902,1063 897,1045"/>
<polyline points="915,1194 956,1187 1001,1192"/>
<polyline points="956,1194 963,1208 961,1221 967,1230 961,1240 956,1249 949,1262 956,1280 979,1289 981,1308"/>
<polyline points="915,1194 911,1217 906,1235 897,1255 899,1267 911,1269 922,1267 936,1276 949,1262"/>
<polyline points="1008,1221 1035,1221 1065,1217 1092,1221 1120,1219"/>
<polyline points="1063,1140 1060,1167 1069,1181 1069,1203 1065,1221 1069,1237 1083,1242 1103,1249 1112,1244"/>
<polyline points="1024,1262 1038,1253 1058,1251 1069,1244 1065,1221"/>
<polyline points="1115,1142 1115,1176 1120,1199"/>
<polyline points="992,1076 1001,1090 1015,1081 1035,1081 1047,1085 1056,1104 1047,1117 1054,1135"/>
<polyline points="1024,1104 1038,1119 1047,1117"/>
<polyline points="1031,1040 1044,1047 1044,1063 1063,1076 1069,1092 1081,1090 1092,1099 1101,1092 1101,1076"/>
<polyline points="1078,1040 1081,1058 1103,1065 1115,1074 1120,1076"/>
<polyline points="1069,1092 1074,1115 1069,1131"/>
<polyline points="922,1348 933,1357 933,1380"/>
<polyline points="965,1339 956,1357 952,1380"/>
<polyline points="1017,1339 1020,1362 1047,1366 1069,1366 1081,1380"/>
<polyline points="1060,1330 1060,1357"/>
<polyline points="1123,1113 1130,1138 1150,1162 1168,1156 1179,1142 1177,1131 1184,1126 1198,1117 1204,1113 1218,1108 1236,1097"/>
<polyline points="1186,1079 1198,1099 1204,1113"/>
<polyline points="1136,1040 1139,1058 1145,1094"/>
<polyline points="1114,1142 1111,1176 1143,1178 1152,1162"/>
<polyline points="1111,1176 1109,1203 1120,1221"/>
<polyline points="1143,1178 1136,1203 1145,1221"/>
<polyline points="1179,1142 1186,1153 1193,1176 1200,1194 1195,1221 1204,1240"/>
<polyline points="1175,1203 1173,1226 1164,1237"/>
<polyline points="1200,1194 1216,1185 1236,1190 1263,1169 1268,1149 1266,1126"/>
<polyline points="1263,1169 1281,1185 1284,1199 1272,1217"/>
<polyline points="1311,1081 1313,1122 1327,1133 1349,1124 1358,1138 1372,1144 1374,1176 1386,1185 1408,1181"/>
<polyline points="1358,1092 1356,1108 1349,1124"/>
<polyline points="1315,1174 1372,1172"/>
<polyline points="1372,1144 1395,1138 1408,1140"/>
<polyline points="1374,1176 1374,1194 1395,1203 1404,1194 1408,1181"/>
<polyline points="1381,1158 1386,1176"/>
<polyline points="1343,1040 1356,1083"/>
<polyline points="424,210 440,208 450,212 464,210 468,200 480,194 490,190 496,200 508,202 528,200 544,198 552,202 556,210 564,218 568,230"/>
<polyline points="480,194 488,184 492,170 480,162 476,150"/>
<polyline points="580,150 578,166 586,180 592,190 590,198 582,202 564,204 556,210"/>
<polyline points="590,198 592,210 596,218"/>
<polyline points="564,218 568,230 560,246"/>
<polyline points="380,162 388,156 400,154 420,160"/>
<polyline points="370,170 384,170 400,180 416,184 424,182"/>
<polyline points="386,196 396,194 404,202 422,206"/>
<polyline points="384,216 398,214 400,222 420,224"/>
<polyline points="384,230 420,226"/>
<polyline points="446,150 450,160 462,162 470,170 470,180"/>
<polyline points="520,150 530,156 536,172"/>
<polyline points="460,290 468,294 480,310 476,326 464,330 462,338 468,346 464,350 454,354 448,358 434,358 434,350 436,342 430,340"/>
<polyline points="476,326 484,334 484,342 496,350 490,358 492,366 504,372 512,378 516,386 532,394 532,402"/>
<polyline points="496,300 516,302 524,310 540,316 532,322 536,334 532,350 540,360 520,366 512,378"/>
<polyline points="448,358 460,370 468,378 472,382 470,392 468,400 460,406 444,410 428,414 404,422 380,430 360,432"/>
<polyline points="468,378 454,376 448,374 428,376 420,374 412,374 406,372 390,384 380,378"/>
<polyline points="428,376 432,400 426,406 428,414"/>
<polyline points="476,410 480,414 476,430 480,450"/>
<polyline points="560,302 580,298 600,294 610,290 620,294 640,294"/>
<polyline points="574,330 600,324 608,330 616,336 620,342 616,370 616,390 608,396 606,420 620,430 640,446"/>
<polyline points="588,390 608,388"/>
<polyline points="592,290 596,314 608,322 610,334"/>
<polyline points="608,300 620,306 632,306 640,310"/>
<polyline points="620,342 640,330"/>
<polyline points="700,262 712,254 728,252 740,256 752,254 760,252 770,256 780,254 786,248 796,250 800,254 812,252 820,254 828,258 836,262"/>
<polyline points="700,282 710,274 720,278 728,270 736,276 744,270 752,278 760,274 770,278 780,270 788,274 796,266 808,270 816,266 824,274 836,278"/>
<polyline points="710,290 720,302 716,310 724,316 730,324 728,336 736,342 750,348 752,362 760,362 756,322 772,320 784,324 788,336 780,338 778,352 758,352"/>
<polyline points="746,290 756,286 768,280 780,286 792,286 800,290 812,288 820,294 824,302 812,310 816,320 804,326 796,324"/>
<polyline points="746,290 744,300 752,302 764,298 776,302 788,304 790,310 796,310 796,324"/>
<polyline points="840,262 852,254 864,250 876,254 888,250 892,258 888,270 876,266 868,274 876,282 868,290 876,298 884,294 892,290 908,294"/>
<polyline points="840,282 852,280 860,290 864,302 872,310 880,306 884,298"/>
<polyline points="840,310 856,316 864,322 876,326 884,326"/>
<polyline points="830,326 848,330 860,328 868,326"/>
<polyline points="824,350 844,334"/>
<polyline points="864,330 870,350 880,356 892,346"/>
<polyline points="840,380 876,372 880,376"/>
<polyline points="810,396 856,393"/>
<polyline points="732,450 750,370 736,350"/>
<polyline points="700,364 734,366 750,370"/>
<polyline points="776,338 784,338 788,350 792,370 808,396"/>
<polyline points="920,400 960,386 964,398 976,390 980,410 988,430 1000,434"/>
<polyline points="578,302 590,296 610,294 630,286 650,290 670,296 690,290 710,296 720,292"/>
<polyline points="590,296 594,310 590,322 604,326 610,340 628,350 636,360 640,370"/>
<polyline points="620,300 626,320 640,326 656,330 668,322 680,330 700,326 720,330"/>
<polyline points="640,326 644,350 654,360 660,380 670,390 680,420"/>
<polyline points="680,330 690,350 700,380 720,400"/>
<polyline points="656,330 660,310 670,300"/>
<polyline points="700,300 704,320"/>
<polyline points="720,262 722,272 730,280"/>
<polyline points="660,268 664,280 676,284"/>
<polyline points="688,262 690,276"/>
<polyline points="620,310 632,314 640,310"/>
<polyline points="803.7,978.9 805.7,1012 801.6,1028.5 803.7,1036.8 793.3,1038.9 780.9,1045.1 780.9,1057.5 791.3,1053.3 801.6,1055.4 805.7,1069.9 809.9,1082.3 809.9,1092.6 818.1,1092.6 830.5,1092.6 834.7,1100.9 847.1,1098.8 849.1,1061.6 849.1,1049.2 847.1,1036.8 834.7,1028.5 822.3,1032.7 814,1030.6 805.7,1032.7"/>
<polyline points="834.7,985.1 842.9,991.3 851.2,995.5 861.5,1012 863.6,1026.5 853.3,1032.7 849.1,1049.2"/>
<polyline points="834.7,985.1 824.3,1001.7 824.3,1018.2 822.3,1028.5"/>
<polyline points="888.4,978.9 896.7,985.1 898.7,997.5 904.9,1012 907,1032.7 896.7,1047.1 898.7,1061.6 907,1074 907,1084.3 896.7,1086.4 880.1,1078.1 867.7,1086.4 861.5,1074 851.2,1061.6"/>
<polyline points="907,1032.7 917.3,1036.8 925.6,1053.3 931.8,1074 929.7,1084.3 921.5,1086.4"/>
<polyline points="946.3,978.9 942.1,1001.7 942.1,1022.3 931.8,1043 925.6,1053.3"/>
<polyline points="873.9,1016.1 886.3,1012 888.4,997.5 898.7,997.5"/>
<polyline points="873.9,1016.1 880.1,1036.8 890.5,1036.8"/>
<polyline points="929.7,1074 952.5,1057.5 973.1,1043"/>
<polyline points="921.5,1086.4 931.8,1107.1 921.5,1131.9 931.8,1146.3"/>
<polyline points="898.7,1086.4 900.8,1102.9 886.3,1115.3 871.9,1121.5 855.3,1115.3 853.3,1107.1 849.1,1094.7"/>
<polyline points="871.9,1121.5 865.7,1131.9 861.5,1138.1 842.9,1129.8 822.3,1131.9 803.7,1131.9 797.5,1119.5 797.5,1094.7 809.9,1092.6"/>
<polyline points="797.5,1119.5 785.1,1111.2 762.3,1100.9 743.7,1094.7 723.1,1069.9 716.9,1065.7"/>
<polyline points="692.1,1107.1 718.9,1096.7 731.3,1102.9 727.2,1107.1 735.5,1123.6 760.3,1121.5 785.1,1113.3"/>
<polyline points="727.2,972.7 743.7,974.8 739.6,997.5 737.5,1022.3 764.4,1020.2 774.7,1024.4 780.9,1045.1"/>
<polyline points="739.6,1003.7 762.3,993.4 778.9,985.1 778.9,970.7 793.3,972.7"/>
<polyline points="743.7,1032.7 752,1040.9 743.7,1049.2 737.5,1057.5 739.6,1065.7 745.8,1061.6"/>
<polyline points="690,1053.3 716.9,1051.3"/>
<polyline points="942.1,1127.7 969,1136 983.5,1136 995.9,1152.5"/>
<polyline points="973.1,1065.7 983.5,1063.7 1000,1069.9"/>
<polyline points="822.3,1131.9 822.3,1156.7 814,1167 803.7,1173.2"/>
<polyline points="861.5,1138.1 873.9,1140.1 880.1,1148.4 876,1169.1"/>
<polyline points="733.4,1129.8 731.3,1156.7 752,1154.6 768.5,1148.4 780.9,1152.5 793.3,1156.7 795.4,1173.2"/>
<polyline points="706.5,1148.4 723.1,1138.1 735.5,1133.9 752,1131.9 764.4,1131.9 776.8,1144.3"/>
<polyline points="747.9,1131.9 747.9,1156.7"/>
<polyline points="1324.7,161.3 1337.7,169.1 1343.7,169.9 1350.7,170.8 1359.3,173.4 1363.7,179.5 1368,177.7 1376.7,176 1385.3,171.7 1394,167.3 1402.7,163 1411,158.7"/>
<polyline points="1343.7,169.9 1345.5,182.9 1338.5,186.4 1339.4,193.3 1350.7,198.5 1359.3,200.3 1368,203.7 1371.5,207.2 1368,210.7 1350.7,214.1 1342,214.1"/>
<polyline points="1371.5,207.2 1378.4,207.2 1381,202 1385.3,201.1 1394,202 1402.7,198.5 1411,196.8"/>
<polyline points="1378.4,207.2 1379.3,215.9 1376.7,228 1381,236.7 1389.7,245.3 1394,254 1398.3,258.3"/>
<polyline points="1343.7,226.3 1359.3,227.1 1366.3,225.4 1371.5,228"/>
<polyline points="1381,202 1381,186.4 1385.3,184.7 1394,182.9 1402.7,184.7 1411,183.8"/>
<polyline points="1376.7,176 1381,182.9 1381,186.4"/>
<polyline points="1365.4,150 1368,155.2 1376.7,156.9 1381,161.3"/>
<polyline points="1398.3,258.3 1402.7,249.7 1407,236.7 1411,232.3"/>
<polyline points="390.7,960 393.3,966.7 389.3,980 389.3,986.7 381.3,994.7"/>
<polyline points="438.7,960 438.7,968 432,973.3 430.7,980 436,985.3 446.7,986.7 452,993.3 458.7,1000 458.7,1005.3 449.3,1010.7 445.3,1018.7 433.3,1013.3 429.3,1005.3 428,998.7 420,1004 418.7,1009.3 405.3,1016 392,1021.3"/>
<polyline points="452,993.3 469.3,985.3 473.3,989.3 480,985.3"/>
<polyline points="404,989 408,989 408,994 404,992 404,989"/>
<polyline points="348,1005.3 346.7,1024 352,1026.7 344,1028 333.3,1038.7 329.3,1044 340,1053.3 349.3,1056 344,1070.7 342.7,1084 350.7,1081.3 362.7,1090.7 361.3,1100 362.7,1105.3 384,1106.7 389.3,1093.3 390.7,1085.3 400,1084"/>
<polyline points="324,1010.7 322.7,1024 317.3,1032 306.7,1040 297.3,1032 284,1030.7 280,1033.3"/>
<polyline points="317.3,1032 321.3,1038.7 313.3,1042.7 312,1053.3 316,1060 314.7,1069.3"/>
<polyline points="280,1056 286.7,1052 290.7,1062.7 296,1066.7 296,1073.3"/>
<polyline points="434.7,1066.7 438.7,1070.7 437.3,1093.3 438.7,1098.7"/>
<polyline points="426.7,1102.7 436,1098.7 450.7,1096 458.7,1106.7"/>
<polyline points="568.3,952.2 576,953.7 583.7,955.3 594.4,952.2 600.6,949.1 605.2,952.2 609.8,961.4 619,961.4 625.1,972.1 634.3,978.2 643.5,978.2"/>
<polyline points="568.3,952.2 566.8,962.9 571.4,975.2 577.5,981.3 585.2,987.4 597.5,990.4 603.6,995 611.3,991.9 609.8,978.2 608.2,972.1 611.3,961.4"/>
<polyline points="611.3,991.9 612.8,1002.6 615.9,1014.9 629.7,1019.5 632.7,1033.3"/>
<polyline points="597.5,990.4 606.7,1002.6 603.6,1013.4 594.4,1014.9 592.9,1021.1 600.6,1027.2 599.1,1037.9"/>
<polyline points="542.3,968.8 549.9,971.9 545.3,978.2 545.3,987.4 553,990.4 566.8,988.9 577.5,990.4"/>
<polyline points="545.3,987.4 542.3,996.5 540.7,1007.3 540.7,1018 548.4,1028.7"/>
<polyline points="565.3,998 569.9,999.6 576,990.4 583.7,993.5 588.3,1002.6 595.9,1013.4 582.1,1021.1 576,1027.2 574.5,1034.9"/>
<polyline points="563.7,1008.8 576,1008.8 580.6,1007.3 588.3,1005.7"/>
<polyline points="530,1025.7 539.2,1022.6 549.9,1028.7 545.3,1034.9"/>
<polyline points="718.6,898.4 726.3,910.7 730.9,930.6 717.1,944.4 701.8,955.1 692.6,965.9 683.4,975.1 688,987.4 689.5,996.5"/>
<polyline points="730.9,930.6 738.6,953.7"/>
<polyline points="727.9,972.1 744.7,975.2 743.2,996.5 737.1,1021.1"/>
</g>
<g fill="none" stroke="#000" stroke-width="3" stroke-linejoin="round" stroke-linecap="round">
<polyline points="381,150 371,169 367,190 379,185 384,201 383,227 380,242 408,243 420,237 435,237 445,243 451,254 461,267 472,272"/>
<polyline points="436,150 435,155 419,162 427,171 435,181 427,187 424,201 435,206 427,213 421,219 420,237"/>
<polyline points="472,272 480,259 500,252 512,250 528,251 544,252 556,248 561,251 568,242 572,232 584,225 596,224 598,216 602,206 608,198 622,189 612,180 610,166 618,152 620,150"/>
<polyline points="472,274 476,280 480,290 492,298 504,298 520,295 532,298 538,291 542,299 552,300 564,301 578,294 586,288 588,283 600,280 608,276 618,278 622,270 632,264 646,257 660,255 680,253 696,248 710,248 720,244 740,246 750,248 758,253 766,249 780,245 786,240 796,244 808,240 820,243 828,246 840,244 850,240 860,235 874,232 880,234 888,238 892,250 902,244 908,239 912,244 908,252 898,259 894,268 900,278 910,286 912,296 904,308 892,318 884,326 883,334 892,342 900,346 910,350 916,358 923,361 942,370 953,371 969,369 982,371 998,377 1009,382 1022,385 1027,403 1038,414 1051,419 1073,422 1097,433 1110,443 1121,450 1134,446 1147,435 1151,419 1145,403 1147,390 1158,379 1177,373 1193,367 1211,369 1227,377 1233,390 1249,393 1259,397 1270,395 1278,396 1282,406 1284,411 1292,410 1300,407"/>
<polyline points="472,274 460,279 456,289 445,315 429,339 408,347 392,358 372,379 373,387 365,401 357,414 356,437 363,445 360,459 352,473 344,483 328,494 315,509 301,514 277,519 269,529 262,550 259,557 243,567 235,574 232,586 227,599 224,610 224,621 216,626 208,634 200,642 195,653 189,669 184,685 179,694 173,697 168,709 167,723 165,739 168,727 173,735 181,743 188,757 187,770 180,783 188,794 192,818 191,850"/>
<polyline points="558,301 568,310 572,316 574,330 572,342 575,350 574,358 578,368 584,376 591,380 586,386 585,393 576,392 558,390 542,393 540,398 543,403 532,405 522,407 518,414 522,428 507,435 491,439 485,455 480,459 461,461 448,466 435,469 424,471 408,479 388,498"/>
<polyline points="269,529 388,529"/>
<polyline points="388,498 388,581 300,581 300,658 285,663 275,671 269,679 272,703 273,723 168,723"/>
<polyline points="388,541 490,611 549,655 581,677 616,707 645,727 649,740 661,748 672,756 683,764 701,769 704,783 700,791 707,796 731,792 773,781 816,737 870,699 934,657"/>
<polyline points="444,611 490,611"/>
<polyline points="444,611 467,850"/>
<polyline points="844,244 840,254 834,259 838,262 836,278 838,290 840,298 836,310 826,320 818,330 817,340 821,350 822,358 832,362 838,370 840,380 856,392 860,402 864,420 871,449 867,453 872,465 879,489 879,513 877,535 877,553 877,564 867,575 870,577 883,601 885,614 891,626 902,625 913,630 923,635 929,646 934,657"/>
<polyline points="923,361 922,379 905,387 897,398 889,406 886,414 890,430 885,441 878,449 870,451"/>
<polyline points="934,657 974,665 993,683 1014,673 1041,658 1043,661 1110,697 1206,750"/>
<polyline points="1284,411 1276,416 1275,424 1278,434 1276,444 1274,450"/>
<polyline points="1283,408 1291,410 1301,407 1314,410 1328,413 1340,416 1345,421 1353,420 1359,425 1371,426 1386,432 1396,428 1405,423 1411,420"/>
<polyline points="1283,408 1275,416 1278,431 1278,441 1272,453 1274,462 1276,472 1279,481 1279,703 1411,703"/>
<polyline points="191,850 193,820 192,840 186,860 181,880 179,894 168,912 158,924 153,926 160,925 168,936 174,948 177,960 180,964 172,968 173,980 174,996 182,1000 186,1004 186,1012 192,1016 200,1022 208,1030 218,1040 228,1050 234,1060 244,1068 254,1078 260,1088 266,1098 268,1120"/>
<polyline points="180,888 186,871 198,873 208,869 218,867 236,867 246,876 252,883 262,884 268,898 276,906 280,914 288,920 296,926"/>
<polyline points="296,926 304,922 306,904 314,898 322,906 329,914 334,904 354,906 368,903 370,896 372,902 472,902 477,878 469,872 467,850"/>
<polyline points="296,926 294,936 300,948 298,958 304,968 310,968 316,982 315,1000"/>
<polyline points="315,1000 314,996 290,999 274,996 270,990 256,989 214,989 208,992 202,996 188,995 182,998 174,998"/>
<polyline points="179,961 206,961 208,956 218,954 224,954 232,960 240,964 248,960 253,965 248,970 240,973 228,964 218,960 212,968 200,969 200,974 175,974 172,968"/>
<polyline points="256,989 256,1000 248,1004 254,1012 254,1020 236,1020 228,1026 224,1036 220,1040"/>
<polyline points="266,1098 276,1090 286,1076 300,1072 320,1071 328,1084 336,1096 338,1110 334,1124"/>
<polyline points="315,1000 314,1004 320,1010 328,1004 336,1014 348,1004 358,1008 366,1002 370,996 378,998 381,1000 385,1019 396,1029 391,1035 387,1041 391,1043 393,1037 397,1040 399,1056 407,1063 414,1058 420,1056 430,1064 440,1060 442,1050 452,1048 454,1064 466,1058 472,1058"/>
<polyline points="680,908 652,909 644,918 636,920 622,919 610,915 598,915 584,925 572,932 566,933 562,944 552,938 542,946 540,958 532,958 530,970 524,974 512,964 502,976 505,988 499,989 500,1000 494,1008 482,1010 475,1015 478,1020 478,1030 472,1040 472,1058"/>
<polyline points="622,919 623,932 628,940 629,950 636,958 644,962 650,968 644,970 644,978 656,988 664,992 670,987 676,990 678,1000 672,998 680,1014"/>
<polyline points="680,1014 672,1026 656,1027 648,1034 642,1040 630,1040 620,1039 610,1036 604,1040 580,1040 544,1040 542,1042"/>
<polyline points="544,1040 540,1052 544,1060 546,1080 546,1088"/>
<polyline points="472,1058 480,1062 488,1074 500,1082 510,1076 520,1073 532,1074 540,1084 546,1090"/>
<polyline points="730,792 729,859 724,861 722,891 713,898 710,907 680,907"/>
<polyline points="727,964 736,957 750,956 762,951 780,959 792,966 801,979 811,975 825,968 832,970 843,978 855,984 871,985 883,972 902,967 918,967 932,971 946,977 960,964 972,958 979,957"/>
<polyline points="727,964 727,978 715,992 714,1017"/>
<polyline points="714,1017 692,998 680,1001"/>
<polyline points="714,1017 709,1027 717,1038 717,1050"/>
<polyline points="979,957 974,933 983,926 983,919 997,896 1010,881 1028,860 1031,799 1035,764 1040,753 1031,737 1021,717 1018,690 1014,673"/>
<polyline points="979,957 990,978 993,996 1004,1006 1004,1024 990,1031 979,1048"/>
<polyline points="993,978 1002,979 1004,987 1011,996 1016,1010 1018,1027 1017,1040"/>
<polyline points="1206,750 1251,778"/>
<polyline points="1252,778 1252,765 1279,764 1279,703"/>
<polyline points="1252,778 1252,896 1242,894 1229,895 1226,906 1221,917 1219,928 1211,931 1214,944 1204,952 1204,966 1196,980 1199,988 1212,991 1214,1010 1218,1024 1226,1029 1223,1041"/>
<polyline points="1223,1041 1236,1058 1245,1076 1243,1094 1240,1108"/>
<polyline points="1267,1100 1272,1078 1281,1062 1303,1058 1311,1073 1319,1084 1338,1082 1357,1084 1360,1090 1376,1090 1387,1078 1398,1078 1404,1067 1412,1062"/>
<polyline points="250,1072 258,1080 266,1098 270,1110 268,1122 274,1134 272,1142 286,1148 294,1154 306,1160 316,1166 318,1172 330,1180 338,1188 350,1196 360,1206 370,1216 380,1226 394,1234 406,1240 416,1244 424,1242 434,1238 444,1232 456,1226 466,1222 480,1220 510,1217 530,1220 550,1226"/>
<polyline points="316,1166 316,1158 324,1150 334,1144 336,1134 338,1128 334,1124 340,1118 348,1116 358,1115 364,1120 368,1132 370,1140 367,1152 376,1156 382,1154 388,1142 394,1144 398,1158 396,1170 390,1178 398,1183 408,1186 412,1194 420,1198 422,1210 418,1222 416,1242"/>
<polyline points="408,1064 402,1072 402,1086 410,1094 408,1108 414,1118 402,1120 400,1126 406,1130 402,1138 398,1144"/>
<polyline points="546,1088 550,1120 546,1128 540,1140 538,1158 532,1168 532,1178 538,1202 544,1210 545,1226"/>
<polyline points="545,1222 554,1226 563,1233 576,1224 590,1218 606,1210 620,1202 630,1200 642,1200 646,1192 658,1188 674,1184 690,1182 710,1181 720,1180 734,1182 746,1194 756,1210 760,1214 762,1226 770,1240 778,1246 800,1243 814,1240 830,1237"/>
<polyline points="616,1040 616,1050 626,1060 628,1080 624,1086 632,1090 630,1102 628,1110 636,1118 634,1126 632,1146 634,1156 632,1170 636,1178 646,1188 648,1192"/>
<polyline points="642,1040 638,1052 638,1060 652,1070 654,1090 660,1098 660,1130 661,1160 659,1170 663,1182 664,1186"/>
<polyline points="717,1050 716,1060 712,1070 706,1076 700,1090 692,1100 690,1110 690,1126 688,1140 690,1150 690,1162 690,1182"/>
<polyline points="981,1040 976,1054 970,1067 967,1085 958,1090 956,1108 942,1117 940,1131 933,1149 929,1162 924,1167 918,1178 911,1176 904,1165 898,1158 888,1162 877,1169 865,1181 852,1196 852,1212 843,1230 838,1237"/>
<polyline points="979,1048 981,1040"/>
<polyline points="830,1237 838,1237 843,1235 854,1242 856,1251 865,1255 872,1253 874,1262 879,1276 881,1285 879,1298 878,1312 877,1323 872,1335 865,1342 870,1351 865,1357 865,1366 872,1376 874,1380"/>
<polyline points="878,1310 1004,1310 1013,1314 1024,1317 1035,1321 1043,1326"/>
<polyline points="919,1310 919,1347 879,1347"/>
<polyline points="969,1310 966,1321 967,1339 979,1337 990,1335 997,1339 1001,1353 992,1362 988,1380"/>
<polyline points="1043,1326 1044,1312 1044,1289 1033,1276 1020,1258 1017,1244 1008,1235 1006,1217 1001,1194 1006,1185 1015,1172 1020,1156 1029,1147 1031,1140 1024,1122 1020,1113 1006,1104 999,1092 988,1081 992,1072 1015,1071 1032,1072 1026,1063 1020,1054 1017,1040"/>
<polyline points="1031,1144 1038,1149 1056,1140 1063,1144 1088,1133 1110,1131 1119,1115"/>
<polyline points="1056,1271 1058,1289 1051,1305 1047,1319 1043,1326"/>
<polyline points="1056,1271 1078,1266 1092,1267 1106,1269 1110,1264 1112,1278 1110,1289 1101,1301 1097,1312 1094,1335 1092,1357 1088,1376 1087,1380"/>
<polyline points="1110,1264 1108,1249 1112,1240"/>
<polyline points="840,1269 845,1262 852,1261 854,1267 850,1276 843,1278 840,1269"/>
<polyline points="1259,1110 1259,1124 1272,1126 1286,1138 1286,1149 1300,1158 1309,1165 1315,1176 1315,1185 1327,1194 1338,1203 1339,1217 1349,1230 1358,1240 1370,1246 1381,1240 1392,1242 1399,1235 1408,1240 1411,1246"/>
<polyline points="1240,1108 1259,1110 1266,1104 1267,1100"/>
<polyline points="1339,1217 1327,1221 1313,1217 1293,1212 1288,1221 1268,1224 1259,1228 1236,1237 1225,1230 1218,1240 1213,1251 1204,1251 1186,1246 1164,1242 1157,1235 1143,1221 1132,1221 1118,1233 1112,1240"/>
<polyline points="1411,1353 1404,1376"/>
<polyline points="678,164 688,158 700,152 710,158 706,170 696,176 688,170 678,165"/>
<polyline points="718,150 724,154 732,156"/>
<polyline points="650,182 658,178 662,182 656,186 660,192 654,192 650,186 650,182"/>
<polyline points="620,186 624,190 620,192"/>
<polyline points="840,150 842,158 840,168 836,176 840,180 846,183 852,186 858,176 864,174 870,174 874,170 874,150"/>
<polyline points="942,212 948,210 958,206 964,204 976,208 986,210 1000,210 1012,206 1022,205 1030,206 1020,216 1018,228 1022,242 1018,252 1008,250 1000,246 994,242 980,236 966,230 954,224 948,218 942,212"/>
<polyline points="1036,150 1040,166 1046,184 1042,190 1034,200 1032,208 1040,214 1048,208 1056,190 1068,182 1072,178 1070,168 1056,158 1058,150"/>
<polyline points="1094,150 1098,156 1104,158 1106,150"/>
<polyline points="1000,270 1003,272"/>
<polyline points="1307,150 1309,159 1311,167 1303,172 1301,176 1306,180 1312,182 1320,180 1326,179 1329,183 1333,185 1332,189 1326,191 1325,193 1329,198 1337,199 1326,204 1323,207 1329,211 1337,212 1338,217 1332,218 1323,218 1311,219 1306,225 1307,228 1314,226 1321,228 1326,232 1332,235 1338,234 1344,237 1347,240 1352,242 1359,241 1366,242 1368,244 1372,245 1378,249 1384,250 1390,258 1396,264 1403,269 1411,269"/>
<polyline points="1301,165 1310,162 1318,164 1324,170 1318,178 1308,178 1301,172 1301,165"/>
<polyline points="1301,192 1310,190 1320,196 1314,204 1304,204 1301,198"/>
<polyline points="1305,216 1318,214 1330,218"/>
<polyline points="1316,223 1324,222 1330,224"/>
<polyline points="1346,267 1351,262 1358,259 1365,259 1363,264 1356,271 1351,277 1347,271 1346,267"/>
<polyline points="1325,150 1330,156 1340,152"/>
<polyline points="1240,283 1245,282 1251,286 1257,283 1264,289 1273,290 1287,291 1297,291 1307,294 1315,294 1316,298 1309,302 1300,303 1293,305 1280,305 1272,303 1267,298 1260,297 1251,295 1243,295 1240,291 1240,283"/>
<polyline points="1320,281 1328,276 1333,270"/>
<polyline points="141,494 148,493 149,497 145,506 141,497 141,494"/>
<polyline points="136,527 141,523 145,522 144,529 137,529 136,527"/>
<polyline points="158,515 162,512 166,515 162,519 158,515"/>
<polyline points="169,507 191,501 187,509 180,519 176,519 172,514 169,507"/>
<polyline points="198,520 201,514 206,513 211,517 211,523 206,527 200,526 198,520"/>
<polyline points="233,517 241,514 245,502 251,494 255,486 261,481 263,477 260,475 253,483 249,491 247,497 243,507 238,512 233,517"/>
<polyline points="259,474 261,480 260,486"/>
<polyline points="160,371 168,369 176,373 173,377 165,376 160,371"/>
<polyline points="184,361 184,366"/>
<polyline points="179,377 183,385"/>
<polyline points="900,339 907,337 910,343 907,350 901,349 900,339"/>
<polyline points="1119,1115 1123,1112 1118,1106 1123,1101 1145,1099 1159,1094 1173,1081 1186,1067 1193,1058 1195,1045 1209,1041 1222,1042"/>
<polyline points="811,1326 813,1329"/>
<polyline points="792,1367 795,1366 795,1372 792,1372 792,1367"/>
<polyline points="1131,152 1136,156 1144,166 1156,170 1164,178 1168,180 1176,180 1179,185 1172,186 1168,190 1170,194 1176,198 1182,200 1192,200 1200,200 1208,199 1216,202 1224,206 1232,211 1240,216 1244,217 1248,219 1252,221 1254,222 1258,220 1256,218 1252,214 1251,210 1256,209 1261,210 1264,212 1267,214 1270,216 1274,218 1280,220"/>
<polyline points="1178,215 1181,218 1186,223 1190,228 1192,232 1189,236 1188,241 1190,244 1192,250 1194,252 1198,249 1199,242 1202,241 1205,244 1208,248 1210,252 1211,257 1213,261 1214,257 1216,250 1219,248 1222,250 1224,254 1226,257 1225,261 1226,266 1228,268 1230,264 1230,259 1229,254 1227,249 1226,244 1224,239 1222,234 1221,230 1220,224 1224,225 1228,230 1230,234 1234,235 1240,232 1242,228 1241,222 1238,218 1234,217 1231,215 1228,214 1224,211 1220,208 1216,206 1208,206 1200,206 1192,205 1184,208 1180,212 1178,215"/>
<polyline points="1156,201 1162,200 1169,205 1168,210 1160,210 1156,206 1156,201"/>
<polyline points="1163,214 1168,214 1174,220 1172,224 1166,223 1163,218 1163,214"/>
<polyline points="1216,150 1224,158 1232,166 1240,172 1236,176 1230,178 1226,181 1222,184 1226,188 1234,194 1242,200 1250,206 1256,209"/>
<polyline points="1232,182 1240,185 1248,188 1256,190 1260,196 1262,204 1268,208 1274,212 1280,215 1276,217 1268,214 1260,208 1252,203 1244,197 1238,192 1232,186 1232,182"/>
<polyline points="1222,172 1230,172 1236,175 1246,172 1252,168 1258,166 1255,176 1250,178 1244,176 1238,179 1232,178"/>
<polyline points="1240,180 1248,180 1256,184"/>
<polyline points="1261,181 1266,180 1272,185 1267,190 1262,186 1261,181"/>
<polyline points="1260,222 1264,224"/>
<polyline points="1262,228 1267,232 1265,236 1262,232 1262,228"/>
<polyline points="1264,237 1270,240"/>
<polyline points="1269,241 1274,244"/>
<polyline points="1258,249 1264,248 1270,250 1268,254 1262,254 1258,249"/>
<polyline points="1275,252 1280,256"/>
<polyline points="1249,246 1251,248"/>
<polyline points="1237,244 1239,246"/>
<polyline points="1249,227 1252,228"/>
<polyline points="1270,222 1274,225"/>
<polyline points="1274,226 1279,231"/>
<polyline points="1284,240 1292,238 1300,242 1312,241"/>
<polyline points="1282,252 1292,248 1304,250"/>
<polyline points="1287,258 1292,262"/>
<polyline points="1300,260 1305,263"/>
<polyline points="1277,186 1283,190"/>
<polyline points="1296,186 1302,184"/>
<polyline points="1282,226 1290,230 1296,236"/>
<polyline points="934,247 936,250"/>
<polyline points="955,277 957,279"/>
<polyline points="948,287 950,289"/>
<polyline points="624,1085 625,1088"/>
</g>
</g>
<rect x="88" y="150" width="1323" height="1227" fill="none" stroke="#000" stroke-width="2"/>
<line x1="80" y1="1377.0" x2="88" y2="1377.0" stroke="#000" stroke-width="1.5"/>
<text transform="translate(59.5,1385.7) scale(1.15,1)" x="0" y="0" textLength="10.4" lengthAdjust="spacing" font-family="Liberation Sans, sans-serif" font-size="21.5" fill="#000" stroke="#fff" stroke-width="0.7">0</text>
<line x1="80" y1="1223.6" x2="88" y2="1223.6" stroke="#000" stroke-width="1.5"/>
<text transform="translate(59.5,1232.3) scale(1.15,1)" x="0" y="0" textLength="10.4" lengthAdjust="spacing" font-family="Liberation Sans, sans-serif" font-size="21.5" fill="#000" stroke="#fff" stroke-width="0.7">5</text>
<line x1="80" y1="1070.2" x2="88" y2="1070.2" stroke="#000" stroke-width="1.5"/>
<text transform="translate(44.2,1079.0) scale(1.15,1)" x="0" y="0" textLength="23.7" lengthAdjust="spacing" font-family="Liberation Sans, sans-serif" font-size="21.5" fill="#000" stroke="#fff" stroke-width="0.7">10</text>
<line x1="80" y1="916.9" x2="88" y2="916.9" stroke="#000" stroke-width="1.5"/>
<text transform="translate(44.2,925.6) scale(1.15,1)" x="0" y="0" textLength="23.7" lengthAdjust="spacing" font-family="Liberation Sans, sans-serif" font-size="21.5" fill="#000" stroke="#fff" stroke-width="0.7">15</text>
<line x1="80" y1="763.5" x2="88" y2="763.5" stroke="#000" stroke-width="1.5"/>
<text transform="translate(44.2,772.2) scale(1.15,1)" x="0" y="0" textLength="23.7" lengthAdjust="spacing" font-family="Liberation Sans, sans-serif" font-size="21.5" fill="#000" stroke="#fff" stroke-width="0.7">20</text>
<line x1="80" y1="610.1" x2="88" y2="610.1" stroke="#000" stroke-width="1.5"/>
<text transform="translate(44.2,618.8) scale(1.15,1)" x="0" y="0" textLength="23.7" lengthAdjust="spacing" font-family="Liberation Sans, sans-serif" font-size="21.5" fill="#000" stroke="#fff" stroke-width="0.7">25</text>
<line x1="80" y1="456.8" x2="88" y2="456.8" stroke="#000" stroke-width="1.5"/>
<text transform="translate(44.2,465.4) scale(1.15,1)" x="0" y="0" textLength="23.7" lengthAdjust="spacing" font-family="Liberation Sans, sans-serif" font-size="21.5" fill="#000" stroke="#fff" stroke-width="0.7">30</text>
<line x1="80" y1="303.4" x2="88" y2="303.4" stroke="#000" stroke-width="1.5"/>
<text transform="translate(44.2,312.1) scale(1.15,1)" x="0" y="0" textLength="23.7" lengthAdjust="spacing" font-family="Liberation Sans, sans-serif" font-size="21.5" fill="#000" stroke="#fff" stroke-width="0.7">35</text>
<line x1="80" y1="150.0" x2="88" y2="150.0" stroke="#000" stroke-width="1.5"/>
<text transform="translate(44.2,158.7) scale(1.15,1)" x="0" y="0" textLength="23.7" lengthAdjust="spacing" font-family="Liberation Sans, sans-serif" font-size="21.5" fill="#000" stroke="#fff" stroke-width="0.7">40</text>
<line x1="88.0" y1="1377" x2="88.0" y2="1385" stroke="#000" stroke-width="1.5"/>
<text transform="translate(65.0,1404) scale(1.15,1)" x="0" y="0" textLength="40.0" lengthAdjust="spacing" font-family="Liberation Sans, sans-serif" font-size="21.5" fill="#000" stroke="#fff" stroke-width="0.7">−20</text>
<line x1="220.3" y1="1377" x2="220.3" y2="1385" stroke="#000" stroke-width="1.5"/>
<text transform="translate(197.3,1404) scale(1.15,1)" x="0" y="0" textLength="40.0" lengthAdjust="spacing" font-family="Liberation Sans, sans-serif" font-size="21.5" fill="#000" stroke="#fff" stroke-width="0.7">−15</text>
<line x1="352.6" y1="1377" x2="352.6" y2="1385" stroke="#000" stroke-width="1.5"/>
<text transform="translate(329.6,1404) scale(1.15,1)" x="0" y="0" textLength="40.0" lengthAdjust="spacing" font-family="Liberation Sans, sans-serif" font-size="21.5" fill="#000" stroke="#fff" stroke-width="0.7">−10</text>
<line x1="484.9" y1="1377" x2="484.9" y2="1385" stroke="#000" stroke-width="1.5"/>
<text transform="translate(469.5,1404) scale(1.15,1)" x="0" y="0" textLength="26.7" lengthAdjust="spacing" font-family="Liberation Sans, sans-serif" font-size="21.5" fill="#000" stroke="#fff" stroke-width="0.7">−5</text>
<line x1="617.2" y1="1377" x2="617.2" y2="1385" stroke="#000" stroke-width="1.5"/>
<text transform="translate(611.2,1404) scale(1.15,1)" x="0" y="0" textLength="10.4" lengthAdjust="spacing" font-family="Liberation Sans, sans-serif" font-size="21.5" fill="#000" stroke="#fff" stroke-width="0.7">0</text>
<line x1="749.5" y1="1377" x2="749.5" y2="1385" stroke="#000" stroke-width="1.5"/>
<text transform="translate(743.5,1404) scale(1.15,1)" x="0" y="0" textLength="10.4" lengthAdjust="spacing" font-family="Liberation Sans, sans-serif" font-size="21.5" fill="#000" stroke="#fff" stroke-width="0.7">5</text>
<line x1="881.8" y1="1377" x2="881.8" y2="1385" stroke="#000" stroke-width="1.5"/>
<text transform="translate(868.1,1404) scale(1.15,1)" x="0" y="0" textLength="23.7" lengthAdjust="spacing" font-family="Liberation Sans, sans-serif" font-size="21.5" fill="#000" stroke="#fff" stroke-width="0.7">10</text>
<line x1="1014.1" y1="1377" x2="1014.1" y2="1385" stroke="#000" stroke-width="1.5"/>
<text transform="translate(1000.5,1404) scale(1.15,1)" x="0" y="0" textLength="23.7" lengthAdjust="spacing" font-family="Liberation Sans, sans-serif" font-size="21.5" fill="#000" stroke="#fff" stroke-width="0.7">15</text>
<line x1="1146.4" y1="1377" x2="1146.4" y2="1385" stroke="#000" stroke-width="1.5"/>
<text transform="translate(1132.8,1404) scale(1.15,1)" x="0" y="0" textLength="23.7" lengthAdjust="spacing" font-family="Liberation Sans, sans-serif" font-size="21.5" fill="#000" stroke="#fff" stroke-width="0.7">20</text>
<line x1="1278.7" y1="1377" x2="1278.7" y2="1385" stroke="#000" stroke-width="1.5"/>
<text transform="translate(1265.0,1404) scale(1.15,1)" x="0" y="0" textLength="23.7" lengthAdjust="spacing" font-family="Liberation Sans, sans-serif" font-size="21.5" fill="#000" stroke="#fff" stroke-width="0.7">25</text>
<line x1="1411.0" y1="1377" x2="1411.0" y2="1385" stroke="#000" stroke-width="1.5"/>
<text transform="translate(1397.3,1404) scale(1.15,1)" x="0" y="0" textLength="23.7" lengthAdjust="spacing" font-family="Liberation Sans, sans-serif" font-size="21.5" fill="#000" stroke="#fff" stroke-width="0.7">30</text>
<rect x="88.0" y="1426" width="88.2" height="28" fill="#c00000"/>
<rect x="176.2" y="1426" width="88.2" height="28" fill="#ff3200"/>
<rect x="264.4" y="1426" width="88.2" height="28" fill="#ffa000"/>
<rect x="352.6" y="1426" width="88.2" height="28" fill="#ffe678"/>
<rect x="440.8" y="1426" width="88.2" height="28" fill="#785046"/>
<rect x="529.0" y="1426" width="88.2" height="28" fill="#b48c82"/>
<rect x="617.2" y="1426" width="88.2" height="28" fill="#f0dcd2"/>
<rect x="705.4" y="1426" width="88.2" height="28" fill="#ffffff"/>
<rect x="793.6" y="1426" width="88.2" height="28" fill="#c8ffc8"/>
<rect x="881.8" y="1426" width="88.2" height="28" fill="#78f573"/>
<rect x="970.0" y="1426" width="88.2" height="28" fill="#1eb41e"/>
<rect x="1058.2" y="1426" width="88.2" height="28" fill="#96d2fa"/>
<rect x="1146.4" y="1426" width="88.2" height="28" fill="#2882f0"/>
<rect x="1234.6" y="1426" width="88.2" height="28" fill="#dcdcff"/>
<rect x="1322.8" y="1426" width="88.2" height="28" fill="#826ee6"/>
<rect x="88" y="1426" width="1323" height="27.5" fill="none" stroke="#000" stroke-width="3"/>
<line x1="176.2" y1="1426" x2="176.2" y2="1454" stroke="#000" stroke-width="3"/>
<line x1="264.4" y1="1426" x2="264.4" y2="1454" stroke="#000" stroke-width="3"/>
<line x1="352.6" y1="1426" x2="352.6" y2="1454" stroke="#000" stroke-width="3"/>
<line x1="440.8" y1="1426" x2="440.8" y2="1454" stroke="#000" stroke-width="3"/>
<line x1="529.0" y1="1426" x2="529.0" y2="1454" stroke="#000" stroke-width="3"/>
<line x1="617.2" y1="1426" x2="617.2" y2="1454" stroke="#000" stroke-width="3"/>
<line x1="705.4" y1="1426" x2="705.4" y2="1454" stroke="#000" stroke-width="3"/>
<line x1="793.6" y1="1426" x2="793.6" y2="1454" stroke="#000" stroke-width="3"/>
<line x1="881.8" y1="1426" x2="881.8" y2="1454" stroke="#000" stroke-width="3"/>
<line x1="970.0" y1="1426" x2="970.0" y2="1454" stroke="#000" stroke-width="3"/>
<line x1="1058.2" y1="1426" x2="1058.2" y2="1454" stroke="#000" stroke-width="3"/>
<line x1="1146.4" y1="1426" x2="1146.4" y2="1454" stroke="#000" stroke-width="3"/>
<line x1="1234.6" y1="1426" x2="1234.6" y2="1454" stroke="#000" stroke-width="3"/>
<line x1="1322.8" y1="1426" x2="1322.8" y2="1454" stroke="#000" stroke-width="3"/>
<text transform="translate(142.1,1474.5) scale(1.18,1)" x="0" y="0" textLength="59.2" lengthAdjust="spacing" font-family="Liberation Sans, sans-serif" font-size="22.5" fill="#000">−500</text>
<text transform="translate(230.2,1474.5) scale(1.18,1)" x="0" y="0" textLength="59.2" lengthAdjust="spacing" font-family="Liberation Sans, sans-serif" font-size="22.5" fill="#000">−300</text>
<text transform="translate(318.5,1474.5) scale(1.18,1)" x="0" y="0" textLength="59.2" lengthAdjust="spacing" font-family="Liberation Sans, sans-serif" font-size="22.5" fill="#000">−200</text>
<text transform="translate(406.7,1474.5) scale(1.18,1)" x="0" y="0" textLength="59.2" lengthAdjust="spacing" font-family="Liberation Sans, sans-serif" font-size="22.5" fill="#000">−100</text>
<text transform="translate(503.5,1474.5) scale(1.18,1)" x="0" y="0" textLength="44.6" lengthAdjust="spacing" font-family="Liberation Sans, sans-serif" font-size="22.5" fill="#000">−50</text>
<text transform="translate(591.7,1474.5) scale(1.18,1)" x="0" y="0" textLength="44.6" lengthAdjust="spacing" font-family="Liberation Sans, sans-serif" font-size="22.5" fill="#000">−25</text>
<text transform="translate(679.9,1474.5) scale(1.18,1)" x="0" y="0" textLength="44.6" lengthAdjust="spacing" font-family="Liberation Sans, sans-serif" font-size="22.5" fill="#000">−10</text>
<text transform="translate(779.1,1474.5) scale(1.18,1)" x="0" y="0" textLength="25.9" lengthAdjust="spacing" font-family="Liberation Sans, sans-serif" font-size="22.5" fill="#000">10</text>
<text transform="translate(867.3,1474.5) scale(1.18,1)" x="0" y="0" textLength="25.9" lengthAdjust="spacing" font-family="Liberation Sans, sans-serif" font-size="22.5" fill="#000">25</text>
<text transform="translate(955.5,1474.5) scale(1.18,1)" x="0" y="0" textLength="25.9" lengthAdjust="spacing" font-family="Liberation Sans, sans-serif" font-size="22.5" fill="#000">50</text>
<text transform="translate(1035.0,1474.5) scale(1.18,1)" x="0" y="0" textLength="40.6" lengthAdjust="spacing" font-family="Liberation Sans, sans-serif" font-size="22.5" fill="#000">100</text>
<text transform="translate(1123.2,1474.5) scale(1.18,1)" x="0" y="0" textLength="40.6" lengthAdjust="spacing" font-family="Liberation Sans, sans-serif" font-size="22.5" fill="#000">200</text>
<text transform="translate(1211.5,1474.5) scale(1.18,1)" x="0" y="0" textLength="40.6" lengthAdjust="spacing" font-family="Liberation Sans, sans-serif" font-size="22.5" fill="#000">300</text>
<text transform="translate(1299.6,1474.5) scale(1.18,1)" x="0" y="0" textLength="40.6" lengthAdjust="spacing" font-family="Liberation Sans, sans-serif" font-size="22.5" fill="#000">500</text>
</svg></body></html>
